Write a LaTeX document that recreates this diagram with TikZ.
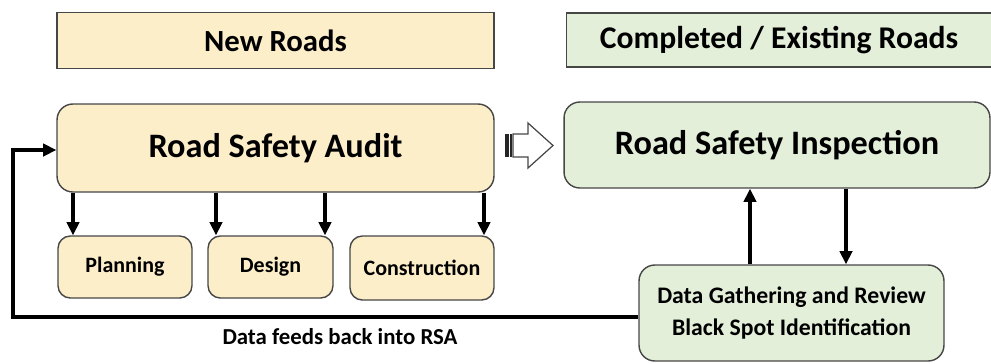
\documentclass[tikz,border=0pt]{standalone}
\usepackage{fontspec}
\setmainfont{Carlito}
\usepackage{xcolor}
\usepackage{tikz}
\usetikzlibrary{arrows.meta, positioning, calc}

\definecolor{tanfill}{RGB}{253,238,202}
\definecolor{greenfill}{RGB}{227,239,217}
\definecolor{edgegray}{RGB}{70,70,70}

\begin{document}
\begin{tikzpicture}[
        x=0.02cm, y=-0.02cm,
        base/.style={
            draw=edgegray, align=center, font=\bfseries, line width=0.8pt,
            inner sep=0pt
        },
        header/.style={base, minimum height=1.12cm},
        main/.style={base, rounded corners=9pt, minimum height=1.76cm,
            font=\bfseries\fontsize{19.5}{23}\selectfont},
        sub/.style={base, rounded corners=7pt, minimum height=1.24cm,
            font=\bfseries\fontsize{12.5}{15}\selectfont},
        newroad/.style={fill=tanfill},
        oldroad/.style={fill=greenfill},
        arrow/.style={line width=2pt, -{Triangle[length=7.5pt, width=7pt]}}
    ]
        \useasboundingbox (0,0) rectangle (991,363);

        % Headers
        \node[header, newroad, minimum width=8.74cm,
            font=\bfseries\fontsize{17.5}{20}\selectfont] (new) at (275.5,40.5) {New Roads};
        \node[header, oldroad, minimum width=8.5cm, minimum height=1.08cm,
            font=\bfseries\fontsize{18}{20}\selectfont] (done) at (779,40) {Completed / Existing Roads};

        % Main blocks
        \node[main, newroad, minimum width=8.74cm] (rsa) at (275.5,148) {Road Safety Audit};
        \node[main, oldroad, minimum width=8.52cm, minimum height=1.72cm] (rsi) at (777,145) {Road Safety Inspection};

        % Stages
        \node[sub, newroad, minimum width=2.68cm] (plan) at (125,267) {Planning};
        \node[sub, newroad, minimum width=2.5cm] (design) at (270.5,267) {Design};
        \node[sub, newroad, minimum width=2.88cm, minimum height=1.28cm] (constr) at (422,268) {Construction};

        \node[base, oldroad, rounded corners=9pt, minimum width=6.1cm, minimum height=1.92cm,
            font=\bfseries\fontsize{13.5}{16}\selectfont] (data) at (791.5,313)
            {Data Gathering and Review\\[2pt]Black Spot Identification};

        % Hollow arrow between RSA and RSI
        \draw[draw=edgegray, line width=0.7pt, fill=white]
            (513,134) -- (528,134) -- (528,123) -- (553,145.5) -- (528,168)
            -- (528,157) -- (513,157) -- cycle;
        \fill[black!85] (505,134) rectangle (509,157);
        \fill[black!85] (510,134) rectangle (512,157);

        % Arrows
        \draw[arrow] (rsa.south -| 73,0) -- (plan.north -| 73,0);
        \draw[arrow] (rsa.south -| 216,0) -- (design.north -| 216,0);
        \draw[arrow] (rsa.south -| 325,0) -- (design.north -| 325,0);
        \draw[arrow] (rsa.south -| 484,0) -- (constr.north -| 484,0);
        \draw[arrow] (data.north -| 750,0) -- (rsi.south -| 750,0);
        \draw[arrow] (rsi.south -| 846,0) -- (data.north -| 846,0);

        % Feedback loop
        \coordinate (corner) at (13,317);
        \draw[arrow] (data.west |- corner) -- (corner) -- (corner |- 0,150) -- (rsa.west |- 0,150);
        \node[font=\bfseries\fontsize{13}{15}\selectfont] (feed) at (340,337) {Data feeds back into RSA};

    \end{tikzpicture}
\end{document}
